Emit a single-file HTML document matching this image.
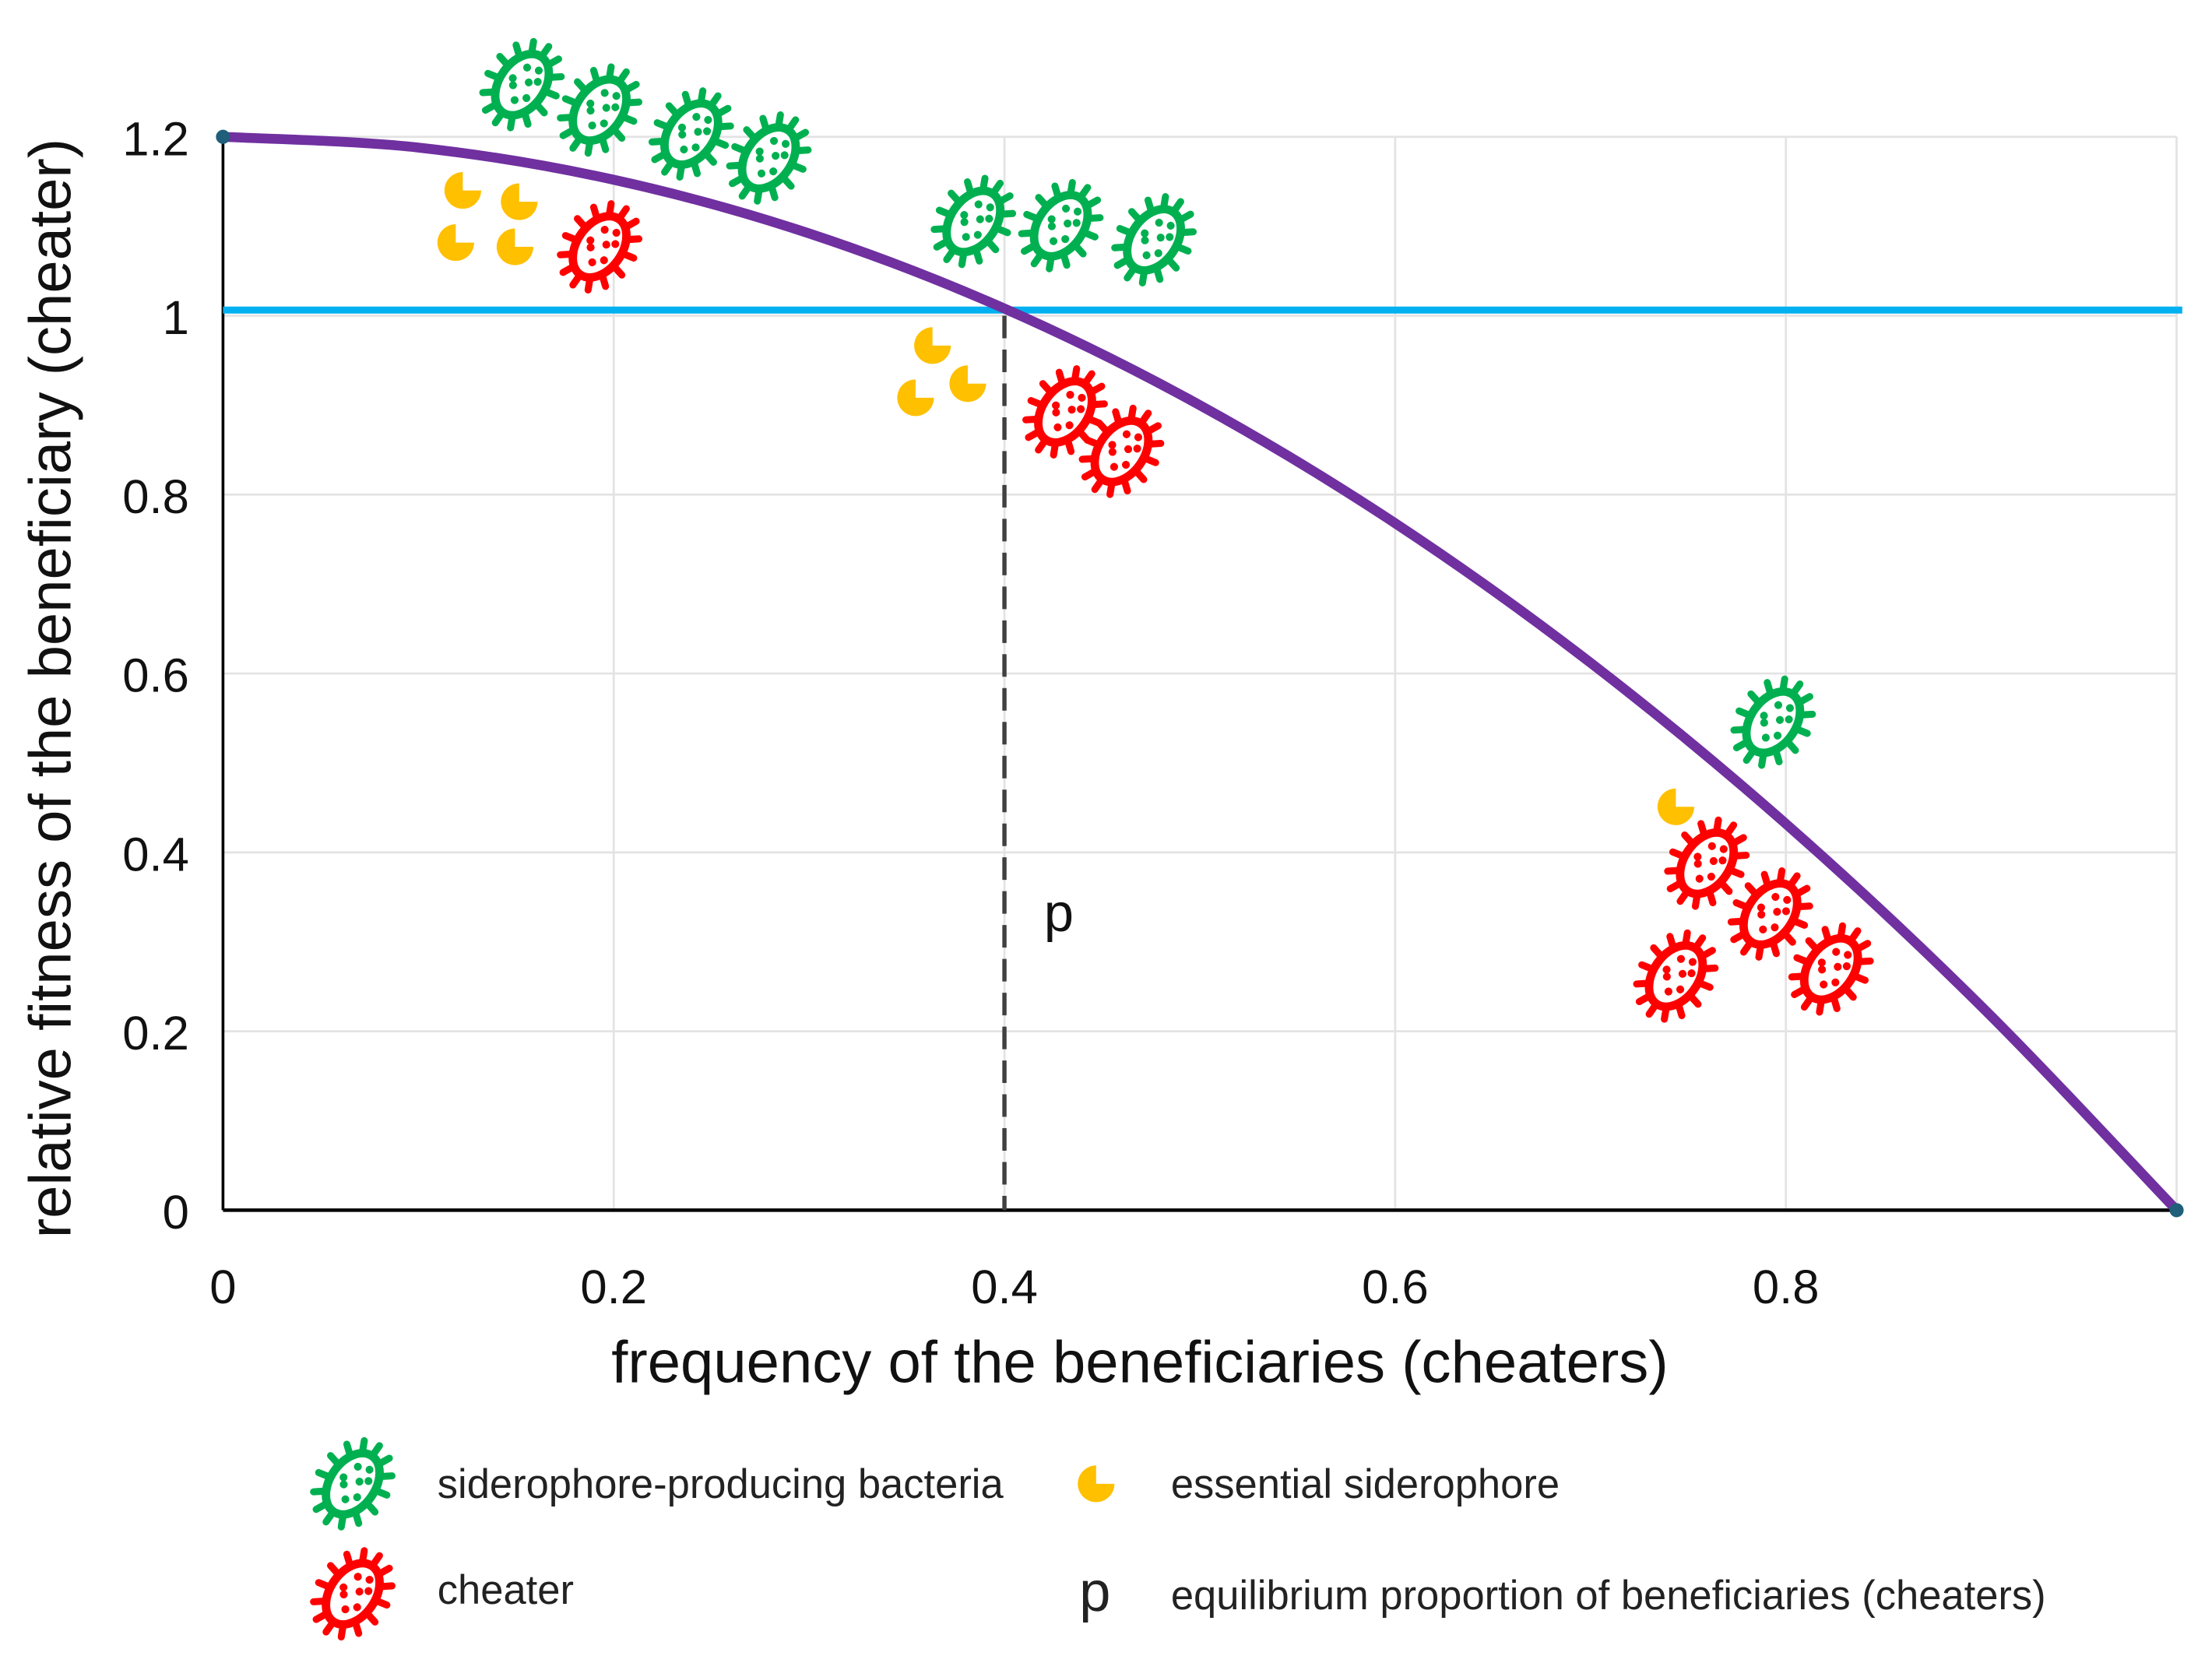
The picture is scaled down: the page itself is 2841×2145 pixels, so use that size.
<!DOCTYPE html>
<html><head><meta charset="utf-8"><style>
html,body{margin:0;padding:0;background:#fff;}
svg{display:block;font-family:"Liberation Sans",sans-serif;}
</style></head><body>
<svg id="chart" width="2841" height="2145" viewBox="0 0 1568 1184" xmlns="http://www.w3.org/2000/svg">
<defs>
<symbol id="bact" viewBox="-40 -40 80 80" overflow="visible">
<g id="bact-body" transform="rotate(-55)"></g>
</symbol>
</defs>
<g id="grid"></g>
<g id="axes"></g>
<g id="series"></g>
<g id="icons"></g>
<text transform="translate(50,488) rotate(-90)" text-anchor="middle" font-size="42" fill="#111">relative fitness of the beneficiary (cheater)</text>
<text x="808" y="980" text-anchor="middle" font-size="42" fill="#111">frequency of the beneficiaries (cheaters)</text>
<text x="740" y="660" font-size="38" fill="#111">p</text>
<g font-size="29" fill="#222">
<text x="310" y="1062">siderophore-producing bacteria</text>
<text x="830" y="1062">essential siderophore</text>
<text x="310" y="1137">cheater</text>
<text x="765" y="1142" font-size="40">p</text>
<text x="830" y="1141">equilibrium proportion of beneficiaries (cheaters)</text>
</g>
</svg>
<script>
const xTicks=[0,0.2,0.4,0.6,0.8];
const yTicks=[0,0.2,0.4,0.6,0.8,1,1.2];
const curveX=[0,0.1,0.2,0.3,0.4,0.5,0.6,0.7,0.8,0.9,1];
const curveY=[1.2,1.188,1.152,1.092,1.008,0.9,0.768,0.612,0.432,0.228,0];
const baselineY=[1.0];
const equilibriumX=[0.4];

const NS="http://www.w3.org/2000/svg";
const X0=158,X1=1543,Y0=858,Ytop=97;
const sx=v=>X0+v*(X1-X0);
const sy=v=>Y0-v*(Y0-Ytop)/1.2;
function mk(tag,attrs,parent){const e=document.createElementNS(NS,tag);for(const k in attrs)e.setAttribute(k,attrs[k]);parent.appendChild(e);return e;}
const grid=document.getElementById('grid'),axes=document.getElementById('axes'),series=document.getElementById('series'),icons=document.getElementById('icons');

[0.2,0.4,0.6,0.8,1].forEach(v=>{const l=mk('line',{x1:sx(v),x2:sx(v),y1:sy(1.2),y2:Y0,stroke:'#e3e3e3','stroke-width':1.5},grid);

});
yTicks.forEach(v=>{if(v===0)return;const l=mk('line',{x1:X0,x2:X1,y1:sy(v),y2:sy(v),stroke:'#e3e3e3','stroke-width':1.5},grid);

});

const ya=mk('line',{x1:X0,x2:X0,y1:sy(1.2),y2:Y0,stroke:'#000','stroke-width':2},axes);


const xa=mk('line',{x1:X0,x2:X1,y1:Y0,y2:Y0,stroke:'#000','stroke-width':2.5},axes);


yTicks.forEach(v=>{const t=mk('text',{x:134,y:sy(v)+13,'text-anchor':'end','font-size':34,fill:'#111'},axes);t.textContent=String(v);

});
xTicks.forEach(v=>{const t=mk('text',{x:sx(v),y:924,'text-anchor':'middle','font-size':34,fill:'#111'},axes);t.textContent=String(v);

});

const bl=mk('line',{x1:X0,x2:X1+4,y1:sy(baselineY[0])-4,y2:sy(baselineY[0])-4,stroke:'#00b0f0','stroke-width':5},series);


const dl=mk('line',{x1:sx(equilibriumX[0]),x2:sx(equilibriumX[0]),y1:sy(baselineY[0]),y2:Y0,stroke:'#404040','stroke-width':3,'stroke-dasharray':'16 8'},series);



const P=curveX.map((x,i)=>[sx(x),sy(curveY[i])]);
let d=`M${P[0][0]},${P[0][1]}`;
for(let i=0;i<P.length-1;i++){const p0=P[Math.max(0,i-1)],p1=P[i],p2=P[i+1],p3=P[Math.min(P.length-1,i+2)];
d+=` C${p1[0]+(p2[0]-p0[0])/6},${p1[1]+(p2[1]-p0[1])/6} ${p2[0]-(p3[0]-p1[0])/6},${p2[1]-(p3[1]-p1[1])/6} ${p2[0]},${p2[1]}`;}
const cp=mk('path',{d:d,fill:'none',stroke:'#7030a0','stroke-width':7},series);


[[curveX[0],curveY[0]],[curveX[curveX.length-1],curveY[curveY.length-1]]].forEach(p=>{const c=mk('circle',{cx:sx(p[0]),cy:sy(p[1]),r:5,fill:'#1f5f7a'},series);

});

const body=document.getElementById('bact-body');
mk('ellipse',{cx:0,cy:0,rx:24,ry:16,fill:'#fff',stroke:'currentColor','stroke-width':6},body);
for(let i=0;i<14;i++){const a=i/14*Math.PI*2,cx=Math.cos(a),sn=Math.sin(a);
mk('line',{x1:24*cx,y1:16*sn,x2:33*cx,y2:25*sn,stroke:'currentColor','stroke-width':5,'stroke-linecap':'round'},body);}
[[-12,2],[-4,-5],[4,3],[12,-4],[-6,8],[8,8],[0,-8],[15,4]].forEach(p=>mk('circle',{cx:p[0],cy:p[1],r:2.8,fill:'currentColor'},body));

function bact(x,y,col,name){const u=mk('use',{href:'#bact',x:x-40,y:y-40,width:80,height:80,color:col},icons);

}
function pac(x,y,name){const r=13;const g=mk('path',{d:`M${x},${y} L${x+r},${y} A${r},${r} 0 1 0 ${x},${y+r} Z`,fill:'#ffc000',transform:`rotate(-90 ${x} ${y})`},icons);

}
[[370,60],[425,78],[490,95],[545,112],[690,157],[752,160],[818,170],[1257,512]].forEach(p=>bact(p[0],p[1],'#00b050','producer-bacterium'));
[[425,175],[755,292],[795,320],[1210,612],[1255,648],[1188,692],[1298,687]].forEach(p=>bact(p[0],p[1],'#ff0000','cheater-bacterium'));
[[328,135],[368,143],[323,172],[365,175],[661,245],[686,272],[649,282],[1188,572]].forEach(p=>pac(p[0],p[1],'siderophore-icon'));
bact(250,1052,'#00b050','legend-producer-icon');
bact(250,1130,'#ff0000','legend-cheater-icon');
pac(777,1052,'legend-siderophore-icon');
</script>
</body></html>
